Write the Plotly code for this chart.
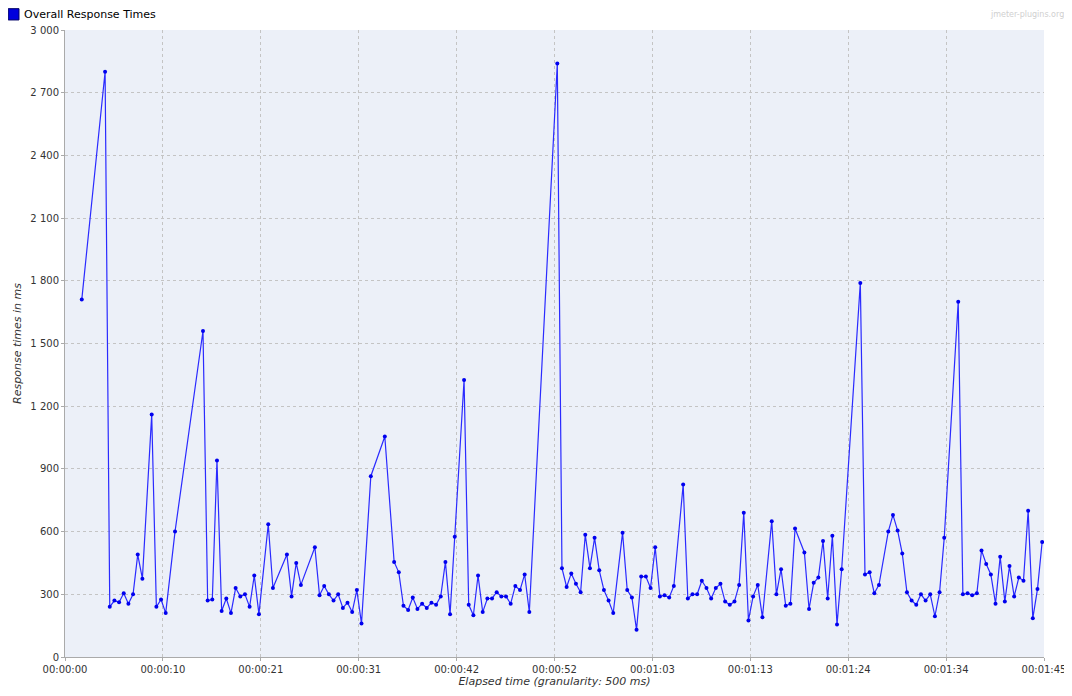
import plotly.graph_objects as go

idx = [3, 8, 9, 10, 11, 12, 13, 14, 15, 16, 18, 19, 20, 21, 23, 29, 30, 31, 32, 33, 34, 35, 36, 37, 38, 39, 40, 41, 43, 44, 47, 48, 49, 50,
       53, 54, 55, 56, 57, 58, 59, 60, 61, 62, 63, 65, 68, 70, 71, 72, 73, 74, 75, 76, 77, 78, 79, 80, 81, 82, 83, 85,
       86, 87, 88, 89, 90, 91, 92, 93, 94, 95, 96, 97, 98, 99, 105,
       106, 107, 108, 109, 110, 111, 112, 113, 114, 115, 116, 117, 119,
       120, 121, 122, 123, 124, 125, 126, 127, 128, 129, 130, 132,
       133, 134, 135, 136, 137, 138, 139, 140, 141, 142, 143, 144, 145, 146, 147, 148, 149, 151,
       152, 153, 154, 155, 156, 158, 159, 160, 161, 162, 163, 164, 165, 166, 170, 171, 172, 173, 174,
       176, 177, 178, 179, 180, 181, 182, 183, 184, 185, 186, 187, 188, 191,
       192, 193, 194, 195, 196, 197, 198, 199, 200, 201, 202, 203, 204, 205, 206, 207, 208, 209]
values = [1710, 2800, 240, 270, 262, 305, 255, 300, 490, 375, 1160, 240, 275, 210, 600, 1560, 270, 275, 940, 220, 280, 210, 330, 290, 300, 240, 390, 205, 635, 330, 490, 290, 450, 345,
          525, 295, 340, 300, 270, 300, 235, 260, 215, 320, 160, 865, 1055, 455, 405, 245, 225, 285, 230, 255, 235, 260, 250, 290, 455, 205, 575, 1325,
          250, 200, 390, 215, 280, 280, 310, 290, 290, 255, 340, 320, 395, 215, 2840,
          425, 335, 400, 350, 310, 585, 425, 570, 415, 320, 270, 210, 595,
          320, 285, 130, 385, 385, 330, 525, 290, 295, 285, 340, 825,
          280, 300, 300, 365, 330, 280, 330, 350, 265, 250, 265, 345, 690, 175, 290, 345, 190, 650,
          300, 420, 245, 255, 615, 500, 230, 355, 380, 555, 280, 580, 155, 420, 1790, 395, 405, 305, 345,
          600, 680, 605, 495, 310, 270, 250, 300, 270, 300, 195, 310, 570, 1700,
          300, 305, 295, 305, 510, 445, 395, 255, 480, 265, 435, 290, 380, 365, 700, 185, 325, 550]
times = [i * 0.5 + 0.3 for i in idx]

tick_secs = [0, 10.5, 21, 31.5, 42, 52.5, 63, 73.5, 84, 94.5, 105]
tick_labels = ["00:00:00", "00:00:10", "00:00:21", "00:00:31", "00:00:42", "00:00:52",
               "00:01:03", "00:01:13", "00:01:24", "00:01:34", "00:01:45"]
y_ticks = list(range(0, 3001, 300))
y_labels = [f"{v:,}".replace(",", " ") for v in y_ticks]

fig = go.Figure(go.Scatter(
    x=times, y=values, mode="lines+markers", name="Overall Response Times",
    line=dict(color="#2a2aff", width=1.2), marker=dict(color="#0000ee", size=4),
))
fig.update_layout(
    width=1064, height=688,
    margin=dict(l=57, r=28, t=22, b=39),
    paper_bgcolor="white", plot_bgcolor="#ecf0f8",
    font=dict(family="DejaVu Sans", size=10, color="#333"),
    showlegend=False,
    xaxis=dict(range=[0, 105], tickvals=tick_secs, ticktext=tick_labels, showgrid=True, automargin=False,
               gridcolor="#c4c4c4", griddash="dot", zeroline=False, showline=True,
               linecolor="#aaaaaa", ticks="outside", ticklen=3, tickcolor="#aaa",
               title=dict(text="<i>Elapsed time (granularity: 500 ms)</i>", standoff=2, font=dict(size=11))),
    yaxis=dict(range=[0, 3000], tickvals=y_ticks, ticktext=y_labels, showgrid=True, automargin=False,
               gridcolor="#c4c4c4", griddash="dot", zeroline=False, showline=True,
               linecolor="#aaaaaa", ticks="outside", ticklen=3, tickcolor="#aaa",
               title=dict(text="<i>Response times in ms</i>", standoff=6, font=dict(size=11))),
    shapes=[dict(type="rect", xref="paper", yref="paper", x0=-0.058, x1=-0.047, y0=1.016, y1=1.034,
                 fillcolor="#0000dd", line=dict(color="#000066", width=1))],
    annotations=[
        dict(text="Overall Response Times", xref="paper", yref="paper", x=-0.044, y=1.025,
             xanchor="left", yanchor="middle", showarrow=False, font=dict(size=11, color="#000")),
        dict(text="jmeter-plugins.org", xref="paper", yref="paper", x=1.022, y=1.025,
             xanchor="right", yanchor="middle", showarrow=False, font=dict(size=8, color="#d0d0d0")),
    ],
)
fig.write_html("out.html")
